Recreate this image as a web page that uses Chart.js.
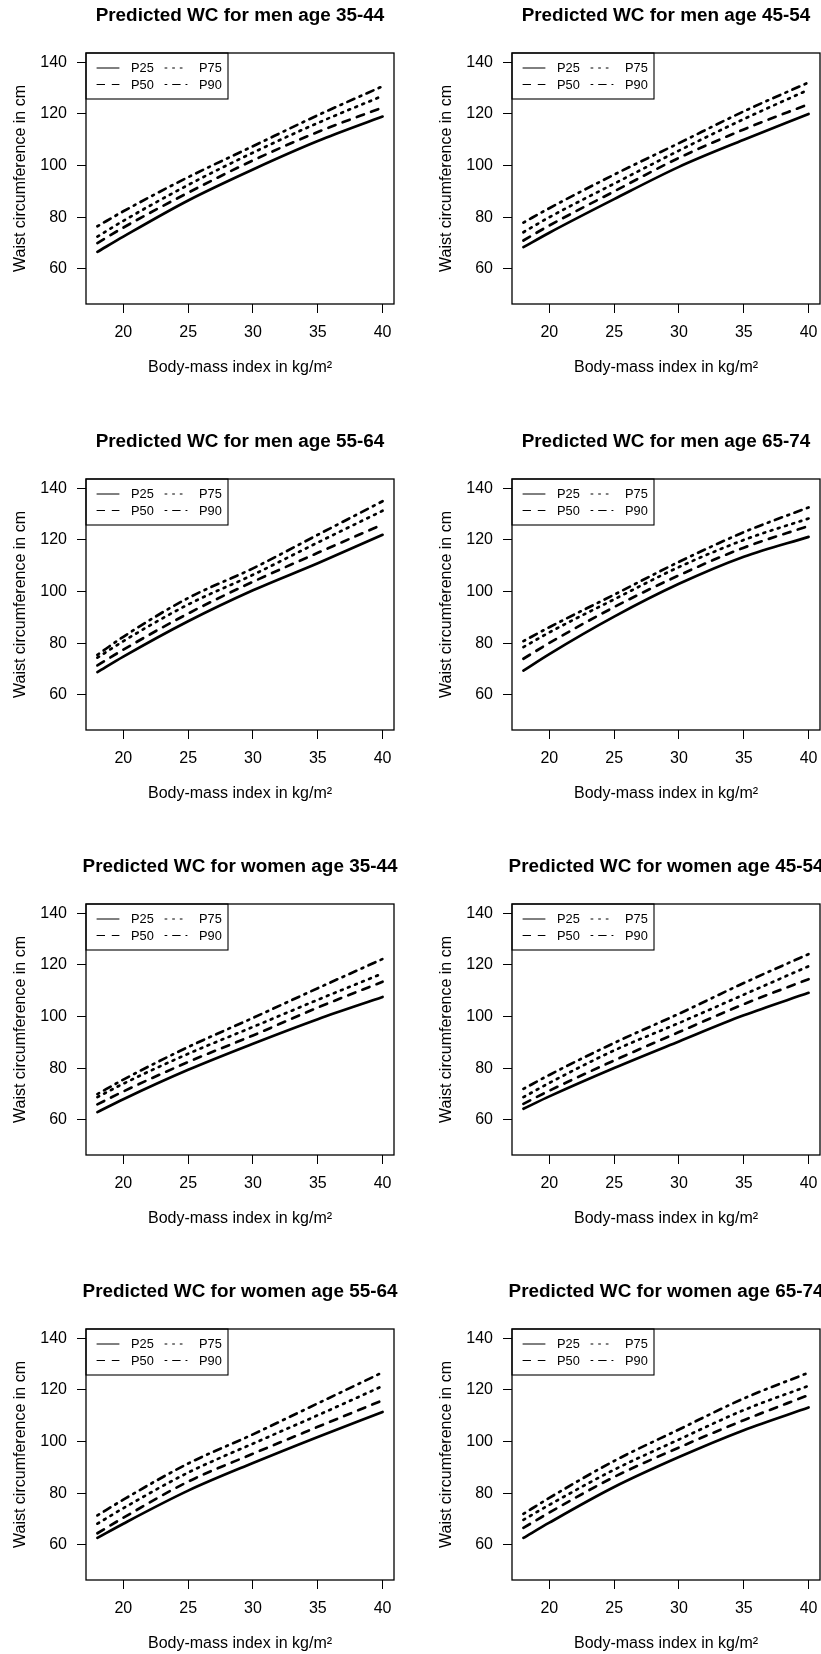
<!DOCTYPE html>
<html lang="en">
<head>
  <meta charset="UTF-8" />
  <title>Predicted waist circumference by BMI</title>
  <script src="https://cdn.jsdelivr.net/npm/chart.js"></script>
  <style>
    html, body {
      margin: 0;
      padding: 0;
      background: #fff;
      overflow: hidden;
    }
    body {
      position: relative;
      width: 821px;
      height: 1654px;
    }
    canvas {
      position: absolute;
    }
  </style>
</head>
<body>
  <canvas id="c0" width="480" height="378" style="left:0;top:0"></canvas>
  <canvas id="c1" width="480" height="378" style="left:426px;top:0"></canvas>
  <canvas id="c2" width="480" height="378" style="left:0;top:426px"></canvas>
  <canvas id="c3" width="480" height="378" style="left:426px;top:426px"></canvas>
  <canvas id="c4" width="480" height="378" style="left:0;top:851px"></canvas>
  <canvas id="c5" width="480" height="378" style="left:426px;top:851px"></canvas>
  <canvas id="c6" width="480" height="378" style="left:0;top:1276px"></canvas>
  <canvas id="c7" width="480" height="378" style="left:426px;top:1276px"></canvas>

  <script>
    const bmi = [18, 20, 25, 30, 35, 40];
    const percentiles = ['P25', 'P50', 'P75', 'P90'];
    const xTicks = [20, 25, 30, 35, 40];
    const yTicks = [60, 80, 100, 120, 140];

    // each panel: rows P25, P50, P75, P90 (waist circumference in cm)
    const men35_44 = [
      [66.6, 72.5, 86.5, 98.5, 109.5, 119],
      [70, 76, 89.5, 102, 113, 122.5],
      [72.5, 78.6, 92.5, 105, 116.5, 127],
      [76.5, 82.3, 95.5, 107.5, 119.5, 130.7]
    ];
    const men45_54 = [
      [68.4, 74, 87, 99.5, 110, 120],
      [71, 76.8, 90, 103, 114, 123.8],
      [74.2, 80, 93, 105.8, 118, 129.4],
      [77.9, 83.5, 96.5, 108.7, 121, 132.2]
    ];
    const men55_64 = [
      [68.8, 74.8, 88.5, 100.5, 111, 122],
      [71.4, 77.5, 91.5, 103.8, 115, 126],
      [74.4, 80.8, 95, 106.5, 119, 131.3],
      [75.5, 82.5, 97.5, 109, 122, 135]
    ];
    const men65_74 = [
      [69.4, 75.8, 90.3, 103, 113.5, 121.2],
      [74, 80.1, 94, 106.3, 117, 125.4],
      [78.5, 84.2, 97, 109.5, 120, 128.3],
      [80.8, 86.2, 98.8, 111.5, 123, 132.6]
    ];
    const women35_44 = [
      [63, 68, 79.4, 89.5, 99, 107.6],
      [66, 71, 82.4, 92.7, 103.5, 113.5],
      [68.8, 74, 85.6, 96, 106.5, 116.7],
      [70, 75.6, 88.2, 99.5, 111, 122.3]
    ];
    const women45_54 = [
      [64.3, 69.1, 80.1, 90.4, 100.5, 109.2],
      [66.2, 71.3, 83, 94, 104.8, 114.5],
      [68.8, 74.3, 86.9, 97.5, 108.5, 119.5],
      [72, 77.4, 89.8, 101.1, 113, 124.2]
    ];
    const women55_64 = [
      [62.7, 68.2, 81, 91.7, 101.8, 111.5],
      [64.5, 70.5, 84.5, 95.3, 105.7, 116],
      [68.2, 74.2, 88, 99.2, 110.2, 121.5],
      [71.4, 77.5, 91.5, 102.8, 114.8, 126.8]
    ];
    const women65_74 = [
      [62.7, 68.6, 82.4, 94, 104.4, 113.2],
      [66.6, 72.5, 86.3, 97.7, 108.3, 118],
      [69.7, 75.5, 89.1, 100.8, 112.2, 121.6],
      [72, 78.2, 92.5, 104.7, 116.7, 126.7]
    ];

    const panelTitles = [
      'Predicted WC for men age 35-44', 'Predicted WC for men age 45-54',
      'Predicted WC for men age 55-64', 'Predicted WC for men age 65-74',
      'Predicted WC for women age 35-44', 'Predicted WC for women age 45-54',
      'Predicted WC for women age 55-64', 'Predicted WC for women age 65-74'
    ];
    const panelData = [men35_44, men45_54, men55_64, men65_74,
                       women35_44, women45_54, women55_64, women65_74];

    // R style line types: solid, dashed, dotted, dotdash
    const dashes = [[], [7.6, 7.6], [1.9, 5.7], [1.9, 5.7, 7.6, 5.7]];
    const FONT = '"Liberation Sans", Arial, sans-serif';

    // panel title over the plot region, box around it and legend in the corner
    const panelDecor = {
      id: 'panelDecor',
      afterDatasetsDraw(chart, args, opts) {
        const { ctx, chartArea: a } = chart;
        ctx.save();

        ctx.fillStyle = '#000';
        ctx.font = 'bold 18.9px ' + FONT;
        ctx.textAlign = 'center';
        ctx.textBaseline = 'middle';
        ctx.fillText(opts.text, (a.left + a.right) / 2, 16);

        ctx.strokeStyle = '#000';
        ctx.lineWidth = 1.3;
        ctx.strokeRect(a.left, a.top, a.width, a.height);
        ctx.lineWidth = 1.1;
        ctx.strokeRect(a.left, a.top, 142, 46);

        ctx.font = '12.8px ' + FONT;
        ctx.textAlign = 'left';
        ctx.lineCap = 'round';
        ctx.lineWidth = 1;
        chart.data.datasets.forEach((ds, i) => {
          const col = Math.floor(i / 2);
          const row = i % 2;
          const x = a.left + 11 + col * 68;
          const y = a.top + 15 + row * 16.5;
          ctx.setLineDash(ds.borderDash);
          ctx.beginPath();
          ctx.moveTo(x, y);
          ctx.lineTo(x + 22, y);
          ctx.stroke();
          ctx.setLineDash([]);
          ctx.fillText(ds.label, x + 34, y + 0.5);
        });
        ctx.restore();
      }
    };

    function makeChart(id, title, rows) {
      new Chart(document.getElementById(id), {
        type: 'line',
        data: {
          datasets: rows.map((vals, i) => ({
            label: percentiles[i],
            data: bmi.map((x, j) => ({ x: x, y: vals[j] })),
            borderColor: '#000',
            borderWidth: 2.7,
            borderDash: dashes[i],
            borderCapStyle: 'round',
            borderJoinStyle: 'round',
            pointRadius: 0,
            cubicInterpolationMode: 'monotone',
            fill: false
          }))
        },
        options: {
          responsive: false,
          animation: false,
          layout: { padding: { left: 0, top: 53, right: 86, bottom: 1 } },
          plugins: {
            legend: { display: false },
            tooltip: { enabled: false },
            title: { display: false },
            panelDecor: { text: title }
          },
          scales: {
            x: {
              type: 'linear',
              min: 17.12,
              max: 40.88,
              afterBuildTicks: s => { s.ticks = xTicks.map(v => ({ value: v })); },
              afterFit: s => { s.height = 73; },
              grid: { drawOnChartArea: false, tickLength: 9, color: '#000', lineWidth: 1 },
              border: { display: false },
              ticks: {
                color: '#000', padding: 10.4, maxRotation: 0, autoSkip: false,
                font: { family: FONT, size: 16, lineHeight: 1.2 }
              },
              title: {
                display: true,
                text: 'Body-mass index in kg/m²',
                color: '#000',
                font: { family: FONT, size: 16, lineHeight: 1.2 },
                padding: { top: 0, bottom: 0 }
              }
            },
            y: {
              type: 'linear',
              min: 46.4,
              max: 143.6,
              afterBuildTicks: s => { s.ticks = yTicks.map(v => ({ value: v })); },
              afterFit: s => { s.width = 86; },
              grid: { drawOnChartArea: false, tickLength: 9, color: '#000', lineWidth: 1 },
              border: { display: false },
              ticks: {
                color: '#000', padding: 10, autoSkip: false,
                font: { family: FONT, size: 16, lineHeight: 1.2 }
              },
              title: {
                display: true,
                text: 'Waist circumference in cm',
                color: '#000',
                font: { family: FONT, size: 16, lineHeight: 1.2 },
                padding: { top: 11.4, bottom: 0 }
              }
            }
          }
        },
        plugins: [panelDecor]
      });
    }

    panelData.forEach((rows, k) => makeChart('c' + k, panelTitles[k], rows));
  </script>
</body>
</html>
